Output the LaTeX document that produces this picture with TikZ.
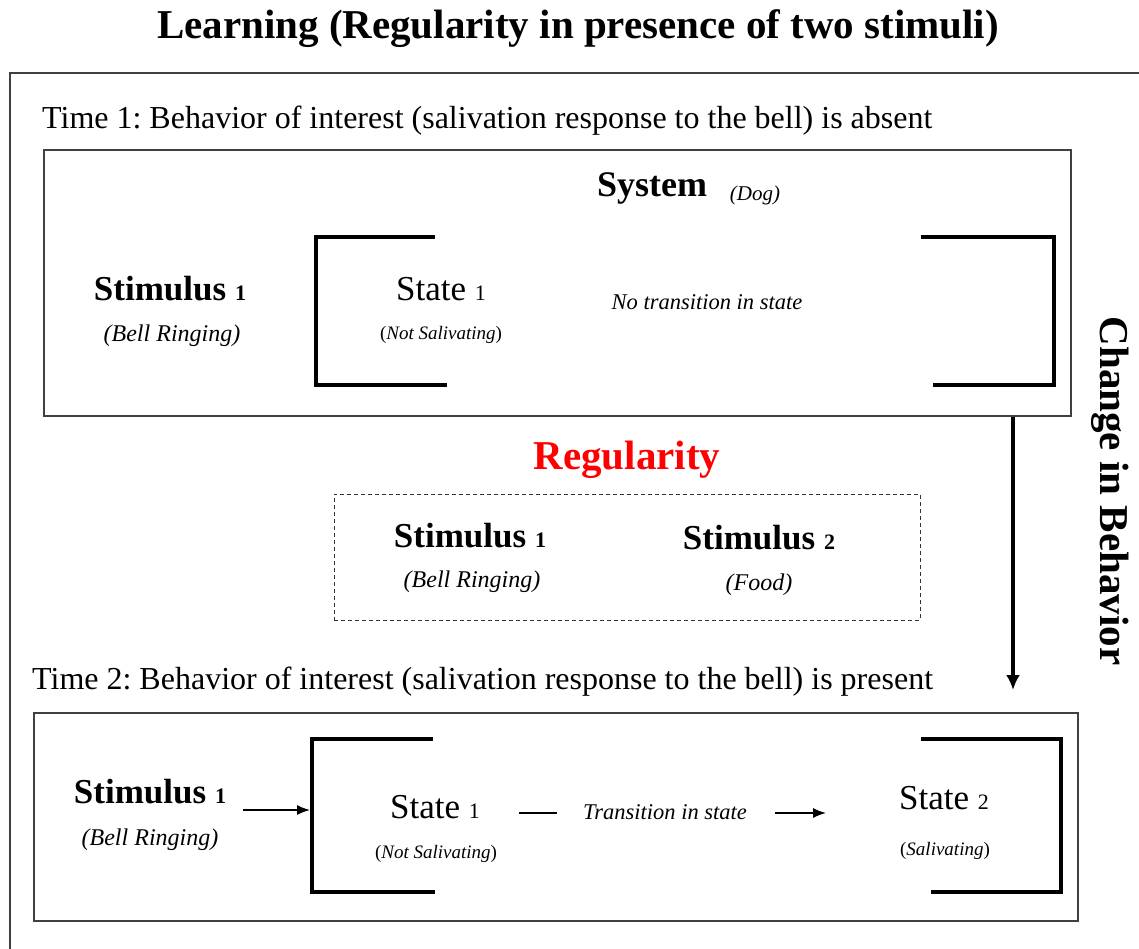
\documentclass[tikz,border=0pt]{standalone}
\usepackage{fontspec}
\setmainfont{Liberation Serif}
\usetikzlibrary{arrows.meta}
\tikzset{
  txt/.style={inner sep=0pt, anchor=center},
  titletxt/.style={txt, font=\fontsize{41}{49}\selectfont\bfseries},
  timetxt/.style={inner sep=0pt, anchor=west, font=\fontsize{32}{38}\selectfont},
  stimtxt/.style={txt, font=\fontsize{35}{42}\selectfont\bfseries},
  statetxt/.style={txt, font=\fontsize{35}{42}\selectfont},
  subtxt/.style={txt, font=\fontsize{24}{29}\selectfont\itshape},
  notetxt/.style={txt, font=\fontsize{22.5}{27}\selectfont\itshape},
  smalltxt/.style={txt, font=\fontsize{19}{23}\selectfont},
  boxframe/.style={draw=black!75, line width=1.4pt, inner sep=0pt},
  bracket/.style={draw=black, line width=3.2pt, line cap=butt},
  thinarrow/.style={draw=black, line width=1.4pt, -{Latex[length=13pt,width=10pt]}},
  thinline/.style={draw=black, line width=1.4pt},
  bigarrow/.style={draw=black, line width=3.4pt, -{Latex[length=15pt,width=14pt]}},
}
\newcommand\subA[1]{~{\fontsize{22}{26}\selectfont #1}}
\begin{document}
\frenchspacing
\begin{tikzpicture}[x=1pt,y=-1pt]
\useasboundingbox (0,0) rectangle (1139,949);
\fill[white] (0,0) rectangle (1139,949);

% title and outer frame
\node[titletxt] (title) at (578,29) {Learning (Regularity in presence of two stimuli)};
\draw[draw=black!75, line width=1.4pt] (1139,73) -- (10,73) -- (10,949);

% Time 1
\node[timetxt] (time1) at (42,121) {Time 1: Behavior of interest (salivation response to the bell) is absent};
\node[boxframe, minimum width=1027pt, minimum height=266pt] (box1) at (557.5,283) {};
\node[txt, font=\fontsize{36}{43}\selectfont\bfseries] (system) at (652,188) {System};
\node[txt, font=\fontsize{21}{25}\selectfont\itshape] (dog) at (755,195) {(Dog)};
\draw[bracket] (435,237) -- (316,237) -- (316,385) -- (447,385);
\draw[bracket] (921,237) -- (1054,237) -- (1054,385) -- (933,385);
\node[stimtxt] (stimA) at (170,289) {Stimulus\subA{1}};
\node[subtxt] (bellA) at (172,336) {(Bell Ringing)};
\node[statetxt] (stateA) at (441,289) {State\subA{1}};
\node[smalltxt] (notsalA) at (441,335) {(\textit{Not Salivating})};
\node[notetxt] (notrans) at (707,302) {No transition in state};

% change in behavior
\coordinate (cbEnd) at (1013,690);
\draw[bigarrow] (box1.south -| cbEnd) -- (cbEnd);
\node[txt, rotate=-90, font=\fontsize{41}{49}\selectfont\bfseries] (change) at (1110,491) {Change in Behavior};

% Regularity
\node[txt, text=red, font=\fontsize{41}{49}\selectfont\bfseries] (reg) at (627,460) {Regularity};
\node[draw=black!80, line width=1pt, dash pattern=on 4pt off 3pt, minimum width=586pt, minimum height=126pt, inner sep=0pt] (regbox) at (627,557) {};
\node[stimtxt] (stimR1) at (470,536) {Stimulus\subA{1}};
\node[subtxt] (bellR) at (472,582) {(Bell Ringing)};
\node[stimtxt] (stimR2) at (759,538) {Stimulus\subA{2}};
\node[subtxt] (food) at (759,585) {(Food)};

% Time 2
\node[timetxt] (time2) at (32,682) {Time 2: Behavior of interest (salivation response to the bell) is present};
\node[boxframe, minimum width=1044pt, minimum height=208pt] (box2) at (556,817) {};
\draw[bracket] (433,739) -- (312,739) -- (312,892) -- (435,892);
\draw[bracket] (921,739) -- (1061,739) -- (1061,892) -- (931,892);
\node[stimtxt] (stimB) at (150,792) {Stimulus\subA{1}};
\node[subtxt] (bellB) at (150,840) {(Bell Ringing)};
\coordinate (inS) at (243,810);
\coordinate (inE) at (310,810);
\draw[thinarrow] (inS) -- (inE);
\node[statetxt] (stateB1) at (435,807) {State\subA{1}};
\node[smalltxt] (notsalB) at (436,854) {(\textit{Not Salivating})};
\node[notetxt] (trans) at (665,812) {Transition in state};
\coordinate (t1s) at (519,813);
\coordinate (t1e) at (557,813);
\coordinate (t2s) at (775,813);
\coordinate (t2e) at (826,813);
\draw[thinline] (t1s) -- (t1e);
\draw[thinarrow] (t2s) -- (t2e);
\node[statetxt] (stateB2) at (944,798) {State\subA{2}};
\node[smalltxt] (sal) at (945,851) {(\textit{Salivating})};
\end{tikzpicture}
\end{document}
